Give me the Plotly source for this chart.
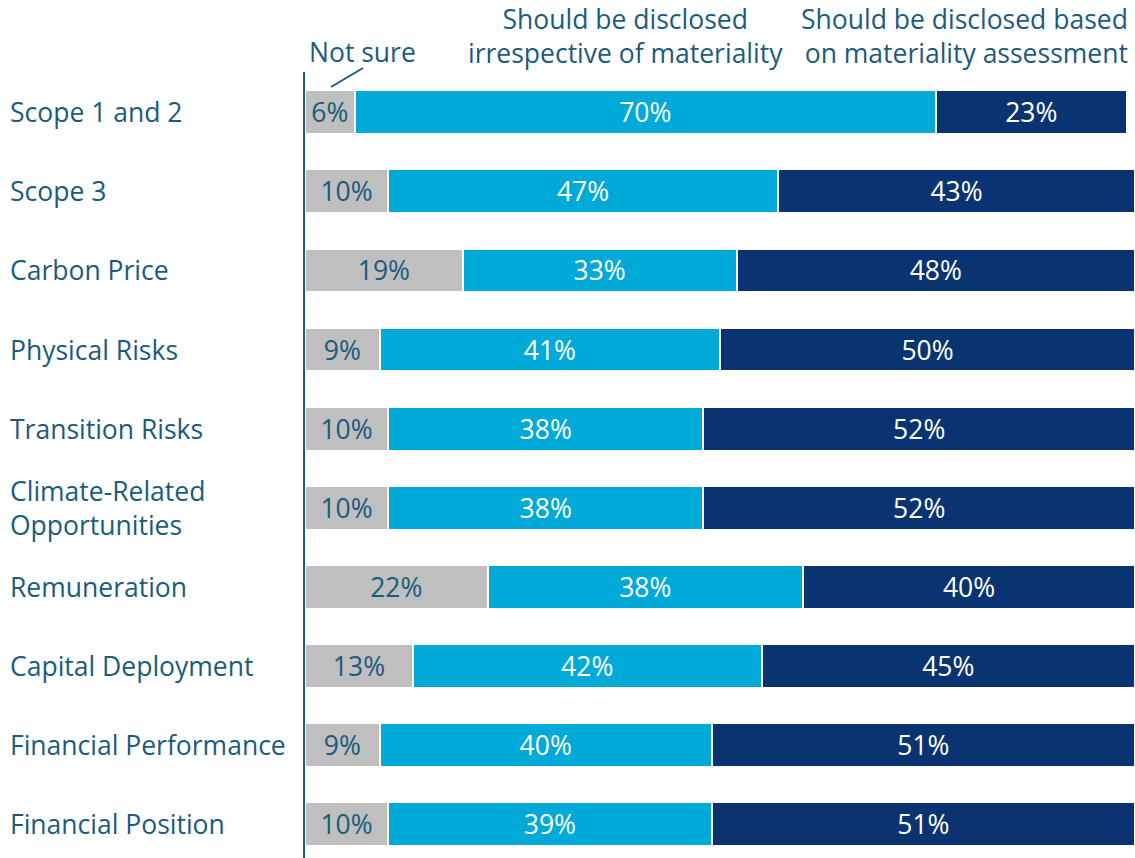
import plotly.graph_objects as go

categories = [
    "Scope 1 and 2",
    "Scope 3",
    "Carbon Price",
    "Physical Risks",
    "Transition Risks",
    "Climate-Related<br>Opportunities",
    "Remuneration",
    "Capital Deployment",
    "Financial Performance",
    "Financial Position",
]
not_sure = [6, 10, 19, 9, 10, 10, 22, 13, 9, 10]
irrespective = [70, 47, 33, 41, 38, 38, 38, 42, 40, 39]
based_on_materiality = [23, 43, 48, 50, 52, 52, 40, 45, 51, 51]

series_names = [
    "Not sure",
    "Should be disclosed<br>irrespective of materiality",
    "Should be disclosed based<br>on materiality assessment",
]

TEAL = "#1B5B7D"
GRAY = "#BFBFBF"
LIGHT_BLUE = "#00AAD8"
NAVY = "#0A3471"
FONT = "Open Sans"
FS = 26.5

W, H = 1135, 858
ML, MT = 305, 72
PW, PH = W - ML, H - MT

fig = go.Figure()
series = [
    (not_sure, GRAY, TEAL),
    (irrespective, LIGHT_BLUE, "white"),
    (based_on_materiality, NAVY, "white"),
]
for (vals, color, tcolor), name in zip(series, series_names):
    fig.add_trace(go.Bar(
        y=categories,
        x=vals,
        orientation="h",
        name=name,
        marker=dict(color=color, line=dict(color="white", width=2)),
        width=0.555,
        text=[f"{v}%" for v in vals],
        textposition="inside",
        insidetextanchor="middle",
        textfont=dict(family=FONT, size=FS, color=tcolor),
        showlegend=False,
    ))

# category labels, left aligned at the page edge
for i, cat in enumerate(categories):
    fig.add_annotation(
        x=(8 - ML) / PW, xref="paper", xanchor="left",
        y=i, yref="y", yanchor="middle",
        text=cat, showarrow=False, align="left",
        font=dict(family=FONT, size=FS, color=TEAL),
    )


def px_x(x):
    return (x - ML) / PW


def px_y(y):
    return (H - y) / PH


# series headers above the first bar
fig.add_annotation(x=px_x(362), y=px_y(52), xref="paper", yref="paper",
                   text=series_names[0], showarrow=False,
                   xanchor="center", yanchor="middle",
                   font=dict(family=FONT, size=FS, color=TEAL))
fig.add_annotation(x=px_x(625), y=px_y(36), xref="paper", yref="paper",
                   text=series_names[1], showarrow=False, align="center",
                   xanchor="center", yanchor="middle",
                   font=dict(family=FONT, size=FS, color=TEAL))
fig.add_annotation(x=px_x(1130), y=px_y(36), xref="paper", yref="paper",
                   text=series_names[2], showarrow=False, align="right",
                   xanchor="right", yanchor="middle",
                   font=dict(family=FONT, size=FS, color=TEAL))

# leader line from the "Not sure" header to its segment
fig.add_shape(type="line", xref="paper", yref="paper",
              x0=px_x(331), y0=px_y(87), x1=px_x(363), y1=px_y(68),
              line=dict(color=TEAL, width=2))

fig.update_layout(
    width=W, height=H,
    barmode="stack",
    bargap=0.45,
    margin=dict(l=ML, r=0, t=MT, b=0, pad=0),
    paper_bgcolor="white",
    plot_bgcolor="white",
    font=dict(family=FONT, color=TEAL),
    uniformtext=dict(minsize=FS, mode="show"),
    xaxis=dict(range=[0, 100], visible=False, fixedrange=True),
    yaxis=dict(
        type="category",
        range=[9.43, -0.51],
        showticklabels=False,
        showgrid=False,
        zeroline=False,
        showline=True,
        linecolor=TEAL,
        linewidth=2,
        ticks="",
    ),
)

fig.write_html("out.html")
